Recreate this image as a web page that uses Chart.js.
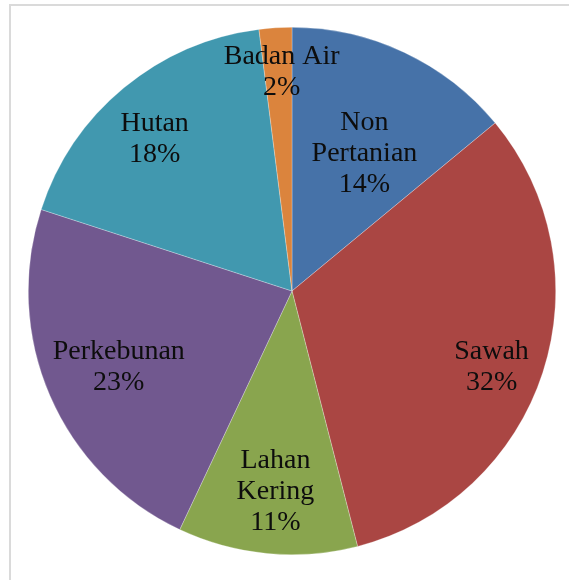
<!DOCTYPE html>
<html>
<head>
<meta charset="utf-8">
<script src="https://cdn.jsdelivr.net/npm/chart.js@4"></script>
<style>
  html, body { margin: 0; padding: 0; background: #fff; }
  body { width: 569px; height: 580px; position: relative; overflow: hidden; }
  .bingkai {
    position: absolute; left: 9px; top: 4px; width: 600px; height: 620px;
    border-left: 2px solid #dadada; border-top: 2px solid #dadada;
  }
  .wadah { position: absolute; left: 27.5px; top: 27px; width: 528px; height: 528px; }
</style>
</head>
<body>
<div class="bingkai"></div>
<div class="wadah"><canvas id="grafik"></canvas></div>
<script>
const kategori = ['Non Pertanian', 'Sawah', 'Lahan Kering', 'Perkebunan', 'Hutan', 'Badan Air'];
const persen = [14, 32, 11, 23, 18, 2];
const warna = ['#4672A8', '#AA4643', '#89A54E', '#71588F', '#4198AF', '#DB843D'];

// baris teks label tiap irisan
const baris = [['Non', 'Pertanian'], ['Sawah'], ['Lahan', 'Kering'], ['Perkebunan'], ['Hutan'], ['Badan Air']];
// letak label: [fraksi jari-jari, geser sudut (derajat)]
const letakLabel = [[0.589, 2.6], [0.81, 2.9], [0.764, -0.7], [0.718, -0.4], [0.777, -2.5], [0.832, 0.9]];

const labelIrisan = {
  id: 'labelIrisan',
  afterDatasetsDraw(chart) {
    const c = chart.ctx;
    const meta = chart.getDatasetMeta(0);
    c.save();
    c.font = '28px "Liberation Serif", "Times New Roman", serif';
    c.fillStyle = '#0d0d0d';
    c.textAlign = 'center';
    c.textBaseline = 'middle';
    meta.data.forEach((arc, i) => {
      const p = arc.getProps(['x', 'y', 'startAngle', 'endAngle', 'outerRadius'], true);
      const sudut = (p.startAngle + p.endAngle) / 2 + letakLabel[i][1] * Math.PI / 180;
      const r = p.outerRadius * letakLabel[i][0];
      const x = p.x + r * Math.cos(sudut);
      const y = p.y + r * Math.sin(sudut);
      const teks = baris[i].concat([persen[i] + '%']);
      const tinggi = 31;
      const awal = y - (teks.length - 1) * tinggi / 2;
      teks.forEach((t, j) => c.fillText(t, x, awal + j * tinggi));
    });
    c.restore();
  }
};

new Chart(document.getElementById('grafik'), {
  type: 'pie',
  data: {
    labels: kategori,
    datasets: [{
      data: persen,
      backgroundColor: warna,
      borderWidth: 0.6,
      borderColor: 'rgba(255,255,255,0.45)',
      offset: 0,
      hoverOffset: 0
    }]
  },
  options: {
    responsive: true,
    maintainAspectRatio: false,
    animation: false,
    layout: { padding: 0 },
    plugins: {
      legend: { display: false },
      tooltip: { enabled: false }
    }
  },
  plugins: [labelIrisan]
});
</script>
</body>
</html>
